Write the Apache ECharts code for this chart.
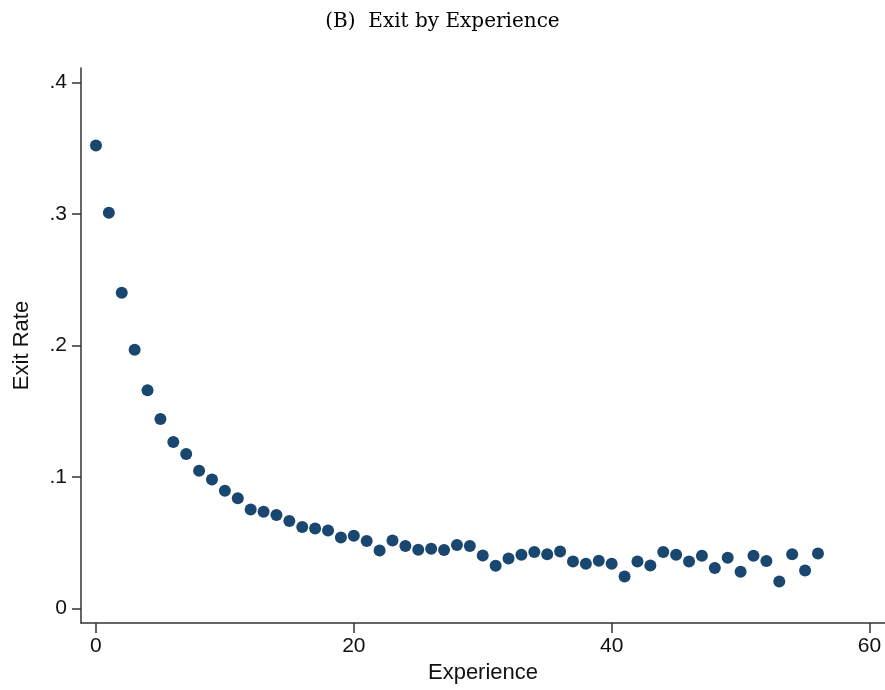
<!DOCTYPE html>
<html>
<head>
<meta charset="utf-8">
<script src="https://cdn.jsdelivr.net/npm/echarts@6/dist/echarts.min.js"></script>
<style>
html,body{margin:0;padding:0;background:#fff;}
#c{width:885px;height:690px;}
</style>
</head>
<body>
<div id="c"></div>
<script>
const experience = [0,1,2,3,4,5,6,7,8,9,10,11,12,13,14,15,16,17,18,19,20,21,22,23,24,25,26,27,28,29,30,31,32,33,34,35,36,37,38,39,40,41,42,43,44,45,46,47,48,49,50,51,52,53,54,55,56];
const exitRate = [0.352,0.301,0.240,0.1967,0.166,0.144,0.1265,0.1174,0.1047,0.0981,0.0895,0.0837,0.0753,0.0735,0.0710,0.0665,0.0619,0.0608,0.0593,0.0540,0.0553,0.0512,0.0441,0.0517,0.0474,0.0446,0.0454,0.0444,0.0482,0.0474,0.0403,0.0325,0.0380,0.0408,0.0429,0.0411,0.0433,0.0357,0.0340,0.0363,0.0340,0.0243,0.0357,0.0327,0.0429,0.0408,0.0357,0.0401,0.0307,0.0386,0.0279,0.0401,0.0360,0.0205,0.0411,0.0289,0.0418];
const xTicks = [0,20,40,60];
const yTicks = [0,0.1,0.2,0.3,0.4];
const yTickLabels = ['0','.1','.2','.3','.4'];
const titleText = '(B)  Exit by Experience';

const chart = echarts.init(document.getElementById('c'), null, {renderer:'canvas'});
const points = experience.map((x,i)=>[x, exitRate[i]]);
const axisColor = '#333';
chart.setOption({
  animation:false,
  backgroundColor:'#fff',
  title:{
    text:titleText, left:'center', top:7,
    textStyle:{fontFamily:'DejaVu Serif', fontWeight:'normal', fontSize:20, color:'#000'}
  },
  grid:{left:81, right:0, top:68, bottom:67},
  xAxis:{
    type:'value', min:-1.16, max:61.2,
    name:'Experience', nameLocation:'middle', nameGap:38,
    nameTextStyle:{fontFamily:'Liberation Sans', fontSize:22, color:'#111', verticalAlign:'top'},
    axisLine:{onZero:false, lineStyle:{color:axisColor, width:1.5}},
    axisTick:{show:true, length:10, customValues:xTicks, lineStyle:{color:axisColor, width:1.5}},
    axisLabel:{customValues:xTicks, margin:13, fontFamily:'Liberation Sans', fontSize:21, color:'#111'},
    splitLine:{show:false}
  },
  yAxis:{
    type:'value', min:-0.0111, max:0.411,
    name:'Exit Rate', nameLocation:'middle', nameGap:48,
    nameTextStyle:{fontFamily:'Liberation Sans', fontSize:22, color:'#111'},
    axisLine:{onZero:false, lineStyle:{color:axisColor, width:1.5}},
    axisTick:{show:true, length:9, customValues:yTicks, lineStyle:{color:axisColor, width:1.5}},
    axisLabel:{customValues:yTicks, margin:14, fontFamily:'Liberation Sans', fontSize:21, color:'#111',
      formatter:function(v){ const i = yTicks.findIndex(t=>Math.abs(t-v)<1e-9); return i>=0 ? yTickLabels[i] : ''; }},
    splitLine:{show:false}
  },
  series:[{
    type:'scatter', data:points, symbol:'circle', symbolSize:12,
    itemStyle:{color:'#1a476f', opacity:1}
  }]
});
</script>
</body>
</html>
